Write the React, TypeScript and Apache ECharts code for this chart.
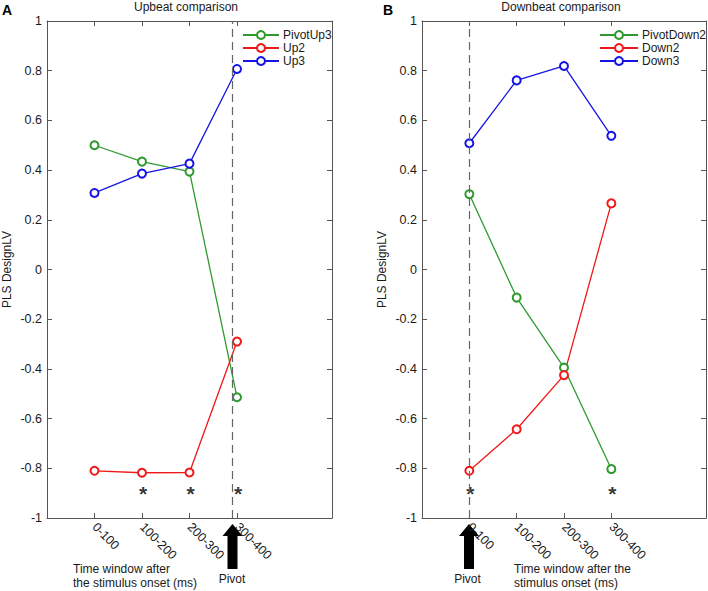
import React, { useEffect, useRef } from 'react';
import * as echarts from 'echarts';

const categories = ['0-100', '100-200', '200-300', '300-400'];
const catPos = [1, 2, 3, 4];

// Panel A: Upbeat comparison
const pivotUp3 = [0.5, 0.434, 0.394, -0.514];
const up2 = [-0.81, -0.818, -0.817, -0.29];
const up3 = [0.308, 0.386, 0.426, 0.807];
const upSignificant = ['100-200', '200-300', '300-400'];
const pivotUpX = 3.9;

// Panel B: Downbeat comparison
const pivotDown2 = [0.303, -0.113, -0.395, -0.803];
const down2 = [-0.81, -0.643, -0.425, 0.266];
const down3 = [0.508, 0.761, 0.819, 0.538];
const downSignificant = ['0-100', '300-400'];
const pivotDownX = 1;

const asteriskLevel = -0.88;

const FONT = '"Liberation Sans", Arial, sans-serif';
const GREEN = '#2f9a2f';
const RED = '#f01818';
const BLUE = '#1515e6';
const AXIS = '#555555';
const TEXT = '#1a1a1a';

function lineSeries(name: string, values: number[], color: string, xi: number, yi: number, extra: any = {}) {
  return {
    type: 'line',
    name,
    xAxisIndex: xi,
    yAxisIndex: yi,
    data: values.map((v, i) => [catPos[i], v]),
    symbol: 'emptyCircle',
    symbolSize: 8,
    showSymbol: true,
    lineStyle: { color, width: 1.3 },
    itemStyle: { color, borderColor: color, borderWidth: 1.3 },
    emphasis: { disabled: true },
    z: 3,
    ...extra,
  };
}

function pivotLine(x: number) {
  return {
    silent: true,
    symbol: ['none', 'none'],
    label: { show: false },
    lineStyle: { type: [8, 5], color: '#666666', width: 1.2 },
    data: [{ xAxis: x }],
  };
}

function sigSeries(list: string[], xi: number, yi: number) {
  return {
    type: 'scatter',
    name: '__sig' + xi,
    xAxisIndex: xi,
    yAxisIndex: yi,
    data: list.map((c) => [categories.indexOf(c) + 1, asteriskLevel]),
    symbol: 'circle',
    symbolSize: 1,
    itemStyle: { color: 'rgba(0,0,0,0)' },
    label: {
      show: true,
      formatter: '*',
      position: 'inside',
      fontSize: 21,
      fontWeight: 'bold',
      color: '#000',
      fontFamily: FONT,
      offset: [1, 5],
    },
    silent: true,
  };
}

function xAxes(gridIndex: number) {
  const common = {
    gridIndex,
    type: 'value',
    min: 0,
    max: 6,
    splitLine: { show: false },
    axisLine: { show: true, onZero: false, lineStyle: { color: AXIS, width: 1 } },
    axisTick: { show: true, inside: true, length: 5, customValues: catPos, lineStyle: { color: AXIS } },
  };
  return [
    {
      ...common,
      position: 'bottom',
      axisLabel: {
        show: true,
        customValues: catPos,
        formatter: (v: number) => categories[v - 1] ?? '',
        rotate: -45,
        margin: 7,
        fontSize: 12.5,
        color: TEXT,
        fontFamily: FONT,
      },
    },
    { ...common, position: 'top', axisLabel: { show: false } },
  ];
}

function yAxes(gridIndex: number) {
  const common = {
    gridIndex,
    type: 'value',
    min: -1,
    max: 1,
    interval: 0.2,
    splitLine: { show: false },
    axisLine: { show: true, onZero: false, lineStyle: { color: AXIS, width: 1 } },
    axisTick: { show: true, inside: true, length: 5, lineStyle: { color: AXIS } },
  };
  return [
    {
      ...common,
      position: 'left',
      name: 'PLS DesignLV',
      nameLocation: 'middle',
      nameGap: 34,
      nameTextStyle: { fontSize: 12, color: TEXT, fontFamily: FONT },
      axisLabel: { show: true, margin: 5, fontSize: 12.5, color: TEXT, fontFamily: FONT },
    },
    { ...common, position: 'right', axisLabel: { show: false } },
  ];
}

function arrow(cx: number) {
  return {
    type: 'polygon',
    shape: {
      points: [
        [cx - 5, 569],
        [cx - 5, 536],
        [cx - 10, 536],
        [cx, 524],
        [cx + 10, 536],
        [cx + 5, 536],
        [cx + 5, 569],
      ],
    },
    style: { fill: '#000' },
    silent: true,
  };
}

function txt(text: string, x: number, y: number, opts: any = {}) {
  return {
    type: 'text',
    x,
    y,
    silent: true,
    style: {
      text,
      fill: TEXT,
      font: `12px ${FONT}`,
      align: 'left',
      verticalAlign: 'middle',
      ...opts,
    },
  };
}

export default function App() {
  const ref = useRef<HTMLDivElement>(null);
  useEffect(() => {
    if (!ref.current) return;
    const chart = echarts.init(ref.current, undefined, { renderer: 'svg' });
    const option: any = {
      animation: false,
      backgroundColor: '#ffffff',
      textStyle: { fontFamily: FONT },
      grid: [
        { left: 47, top: 21, width: 285, height: 497 },
        { left: 422, top: 21, width: 284, height: 497 },
      ],
      xAxis: [...xAxes(0), ...xAxes(1)],
      yAxis: [...yAxes(0), ...yAxes(1)],
      legend: [
        {
          data: ['PivotUp3', 'Up2', 'Up3'],
          orient: 'vertical',
          left: 242,
          top: 29,
          itemWidth: 36,
          itemHeight: 10,
          itemGap: 1,
          padding: 0,
          selectedMode: false,
          textStyle: { fontSize: 12, color: TEXT, fontFamily: FONT, padding: [0, 0, 0, -1] },
        },
        {
          data: ['PivotDown2', 'Down2', 'Down3'],
          orient: 'vertical',
          left: 599,
          top: 29,
          itemWidth: 38,
          itemHeight: 10,
          itemGap: 1,
          padding: 0,
          selectedMode: false,
          textStyle: { fontSize: 12, color: TEXT, fontFamily: FONT, padding: [0, 0, 0, -1] },
        },
      ],
      series: [
        lineSeries('PivotUp3', pivotUp3, GREEN, 0, 0, { markLine: pivotLine(pivotUpX) }),
        lineSeries('Up2', up2, RED, 0, 0),
        lineSeries('Up3', up3, BLUE, 0, 0),
        sigSeries(upSignificant, 0, 0),
        lineSeries('PivotDown2', pivotDown2, GREEN, 2, 2, { markLine: pivotLine(pivotDownX) }),
        lineSeries('Down2', down2, RED, 2, 2),
        lineSeries('Down3', down3, BLUE, 2, 2),
        sigSeries(downSignificant, 2, 2),
      ],
      graphic: [
        txt('A', 2, 10, { font: `bold 14px ${FONT}`, fill: '#000' }),
        txt('B', 383, 10, { font: `bold 14px ${FONT}`, fill: '#000' }),
        txt('Upbeat comparison', 186, 7, { align: 'center' }),
        txt('Downbeat comparison', 561, 7, { align: 'center' }),
        arrow(232.5),
        arrow(469),
        txt('Pivot', 232, 579, { align: 'center' }),
        txt('Pivot', 467.5, 578.5, { align: 'center' }),
        txt('Time window after\nthe stimulus onset (ms)', 73, 562, { verticalAlign: 'top', lineHeight: 14 }),
        txt('Time window after the\nstimulus onset (ms)', 514, 562, { verticalAlign: 'top', lineHeight: 14 }),
      ],
    };
    chart.setOption(option);
    return () => chart.dispose();
  }, []);
  return (
    <div
      ref={ref}
      style={{ position: 'absolute', left: 0, top: 0, width: 708, height: 591, background: '#fff' }}
    />
  );
}
